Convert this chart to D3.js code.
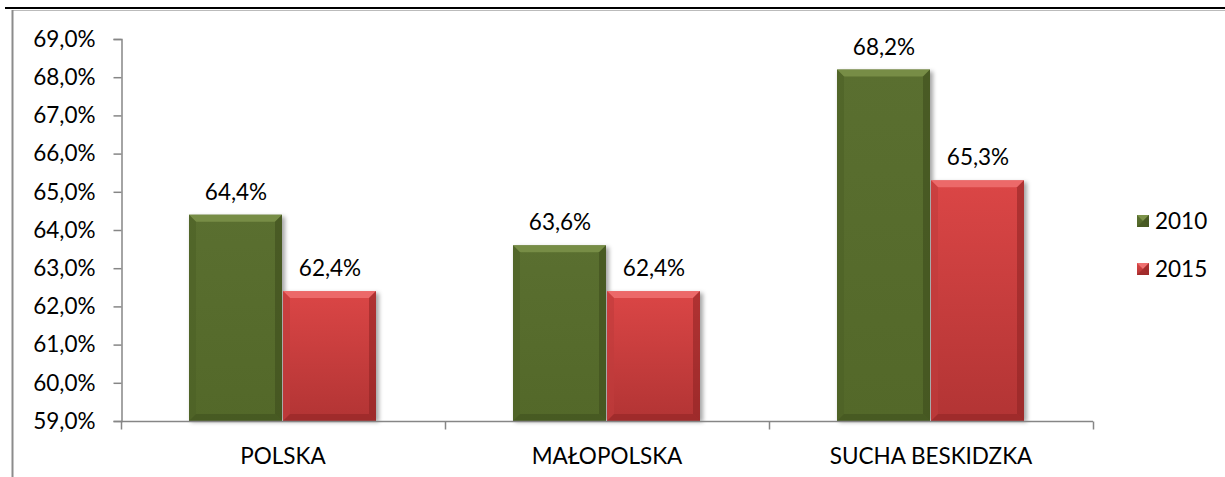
<!DOCTYPE html>
<html>
<head>
<meta charset="utf-8">
<script src="https://cdn.jsdelivr.net/npm/d3@7"></script>
<style>
  body { margin: 0; background: #fff; }
  svg { display: block; }
</style>
</head>
<body>
<div id="chart"></div>
<script>
var categories = ["POLSKA", "MAŁOPOLSKA", "SUCHA BESKIDZKA"];
var seriesNames = ["2010", "2015"];
var values2010 = [64.4, 63.6, 68.2];
var values2015 = [62.4, 62.4, 65.3];
var yTicks = [59, 60, 61, 62, 63, 64, 65, 66, 67, 68, 69];

var width = 1225, height = 477;
var margin = {top: 39, left: 121, right: 132, bottom: 56};
var font = "Lato, 'Open Sans', sans-serif";
var fontSize = "22.5px";

var svg = d3.select("#chart").append("svg")
    .attr("width", width)
    .attr("height", height);

var defs = svg.append("defs");

// face gradients
var colors = {
    "2010": {top: "#5a6f30", bottom: "#536829", light: "#7d934a", dark: "#3c4b1c", side: "#4d6126"},
    "2015": {top: "#db4646", bottom: "#b23434", light: "#ee7070", dark: "#8c2222", side: "#c03c3c"}
};
seriesNames.forEach(function(s) {
    var g = defs.append("linearGradient")
        .attr("id", "face" + s)
        .attr("x1", 0).attr("y1", 0).attr("x2", 0).attr("y2", 1);
    g.append("stop").attr("offset", "0%").attr("stop-color", colors[s].top);
    g.append("stop").attr("offset", "100%").attr("stop-color", colors[s].bottom);
});

var shadow = defs.append("filter").attr("id", "shadow")
    .attr("x", "-10%").attr("y", "-10%").attr("width", "130%").attr("height", "130%");
shadow.append("feGaussianBlur").attr("stdDeviation", 2);

// frame lines
svg.append("line")
    .attr("x1", 5).attr("x2", width).attr("y1", 8).attr("y2", 8)
    .attr("stroke", "#000").attr("stroke-width", 2);
svg.append("line")
    .attr("x1", 12.5).attr("x2", width).attr("y1", 10.5).attr("y2", 10.5)
    .attr("stroke", "#bbb").attr("stroke-width", 1);
svg.append("line")
    .attr("x1", 12.5).attr("x2", 12.5).attr("y1", 10).attr("y2", height)
    .attr("stroke", "#8c8c8c").attr("stroke-width", 2);

var x0 = d3.scaleBand()
    .domain(categories)
    .range([margin.left, width - margin.right])
    .paddingInner(0)
    .paddingOuter(0);

var x1 = d3.scaleBand()
    .domain(seriesNames)
    .range([68, x0.bandwidth() - 68])
    .padding(0);

var y = d3.scaleLinear()
    .domain([59, 69])
    .range([height - margin.bottom, margin.top]);

var data = [];
categories.forEach(function(c, i) {
    data.push({cat: c, series: "2010", value: values2010[i]});
    data.push({cat: c, series: "2015", value: values2015[i]});
});

// y axis
var yAxis = svg.append("g")
    .attr("transform", "translate(" + (margin.left + 0.5) + ",0)")
    .call(d3.axisLeft(y).tickValues(yTicks).tickSize(8).tickPadding(18)
        .tickFormat(function(d) { return d.toFixed(1).replace(".", ",") + "%"; }));
yAxis.select(".domain").attr("stroke", "#868686").attr("stroke-width", 1.5);
yAxis.selectAll(".tick line").attr("stroke", "#868686").attr("stroke-width", 1.5);
yAxis.selectAll("text")
    .attr("font-family", font).attr("font-size", fontSize).attr("fill", "#000");

// bars
var bar = svg.selectAll(".bar")
    .data(data)
    .enter().append("g")
    .attr("class", "bar")
    .attr("transform", function(d) {
        return "translate(" + (x0(d.cat) + x1(d.series)) + "," + y(d.value) + ")";
    });

var bw = x1.bandwidth();
var b = 7;

bar.append("rect")
    .attr("x", 2).attr("y", 2)
    .attr("width", bw).attr("height", function(d) { return y(59) - y(d.value) - 1; })
    .attr("fill", "rgba(0,0,0,0.35)")
    .attr("filter", "url(#shadow)");

bar.append("rect")
    .attr("width", bw - 1)
    .attr("height", function(d) { return y(59) - y(d.value); })
    .attr("fill", function(d) { return "url(#face" + d.series + ")"; });

// bevel: top, left, right, bottom
bar.append("polygon")
    .attr("points", "0,0 " + (bw - 1) + ",0 " + (bw - 1 - b) + "," + b + " " + b + "," + b)
    .attr("fill", function(d) { return colors[d.series].light; })
    .attr("opacity", 0.85);
bar.append("polygon")
    .attr("points", function(d) {
        var h = y(59) - y(d.value);
        return "0,0 " + b + "," + b + " " + b + "," + (h - b) + " 0," + h;
    })
    .attr("fill", function(d) { return colors[d.series].side; })
    .attr("opacity", 0.6);
bar.append("polygon")
    .attr("points", function(d) {
        var h = y(59) - y(d.value);
        return (bw - 1) + ",0 " + (bw - 1) + "," + h + " " + (bw - 1 - b) + "," + (h - b) + " " + (bw - 1 - b) + "," + b;
    })
    .attr("fill", function(d) { return colors[d.series].dark; })
    .attr("opacity", 0.55);
bar.append("polygon")
    .attr("points", function(d) {
        var h = y(59) - y(d.value);
        return "0," + h + " " + b + "," + (h - b) + " " + (bw - 1 - b) + "," + (h - b) + " " + (bw - 1) + "," + h;
    })
    .attr("fill", function(d) { return colors[d.series].dark; })
    .attr("opacity", 0.5);

// value labels
bar.append("text")
    .attr("x", bw / 2)
    .attr("y", -15)
    .attr("text-anchor", "middle")
    .attr("font-family", font)
    .attr("font-size", fontSize)
    .attr("fill", "#000")
    .text(function(d) { return d.value.toFixed(1).replace(".", ",") + "%"; });

// x axis
var xAxis = svg.append("g")
    .attr("transform", "translate(0," + (y(59) + 0.5) + ")");
xAxis.append("line")
    .attr("x1", margin.left).attr("x2", width - margin.right)
    .attr("stroke", "#868686").attr("stroke-width", 1.5);
var bounds = categories.map(function(c) { return x0(c); }).concat([x0.range()[1]]);
xAxis.selectAll(".xtick")
    .data(bounds)
    .enter().append("line")
    .attr("x1", function(d) { return d + 0.5; }).attr("x2", function(d) { return d + 0.5; })
    .attr("y1", 0).attr("y2", 8)
    .attr("stroke", "#868686").attr("stroke-width", 1.5);
xAxis.selectAll(".xlabel")
    .data(categories)
    .enter().append("text")
    .attr("x", function(d) { return x0(d) + x0.bandwidth() / 2; })
    .attr("y", 42)
    .attr("text-anchor", "middle")
    .attr("font-family", font)
    .attr("font-size", fontSize)
    .attr("fill", "#000")
    .text(function(d) { return d; });

// legend
var legend = svg.selectAll(".legend")
    .data(seriesNames)
    .enter().append("g")
    .attr("class", "legend")
    .attr("transform", function(d, i) { return "translate(1137," + (215 + i * 48) + ")"; });

var s = 12;
legend.append("rect")
    .attr("width", s).attr("height", s)
    .attr("fill", function(d) { return "url(#face" + d + ")"; });
legend.append("polygon")
    .attr("points", "0,0 " + s + ",0 " + (s / 2) + "," + (s / 2))
    .attr("fill", function(d) { return colors[d].light; });
legend.append("polygon")
    .attr("points", s + ",0 " + s + "," + s + " " + (s / 2) + "," + (s / 2))
    .attr("fill", function(d) { return colors[d].dark; }).attr("opacity", 0.6);
legend.append("polygon")
    .attr("points", "0," + s + " " + s + "," + s + " " + (s / 2) + "," + (s / 2))
    .attr("fill", function(d) { return colors[d].dark; }).attr("opacity", 0.5);

legend.append("text")
    .attr("x", 18)
    .attr("y", s / 2)
    .attr("dy", "0.35em")
    .attr("font-family", font)
    .attr("font-size", fontSize)
    .attr("fill", "#000")
    .text(function(d) { return d; });
</script>
</body>
</html>
